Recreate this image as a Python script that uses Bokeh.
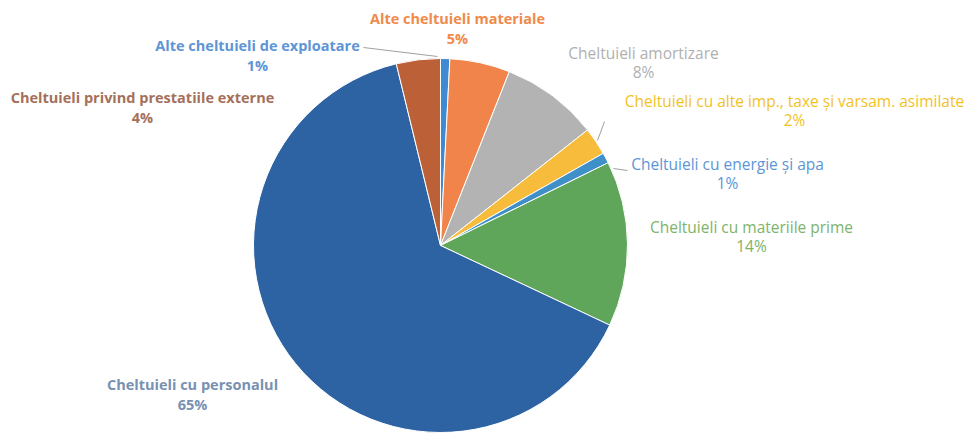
import numpy as np
from bokeh.plotting import figure
from bokeh.models import ColumnDataSource, Range1d
from bokeh.core.properties import value
from bokeh.embed import file_html
from bokeh.resources import INLINE

# Data (clockwise from 12 o'clock)
categories = [
    "Alte cheltuieli de exploatare",
    "Alte cheltuieli materiale",
    "Cheltuieli amortizare",
    "Cheltuieli cu alte imp., taxe și varsam. asimilate",
    "Cheltuieli cu energie și apa",
    "Cheltuieli cu materiile prime",
    "Cheltuieli cu personalul",
    "Cheltuieli privind prestatiile externe",
]
shares = [0.8, 5.2, 8.4, 2.4, 0.9, 14.3, 64.2, 3.8]
pct_labels = ["1%", "5%", "8%", "2%", "1%", "14%", "65%", "4%"]

slice_colors = ["#3F8AD2", "#F0844A", "#B3B3B3", "#F7BC3C", "#3F8FC8", "#5FA65B", "#2D62A3", "#BC6038"]
label_colors = ["#5D95D6", "#F08A4B", "#B0B0B0", "#F2C21E", "#5D95D6", "#7DB36A", "#7891B2", "#A5705A"]
label_sizes = ["14.5px", "14.5px", "15.5px", "15.5px", "15.5px", "15.5px", "14.5px", "14.5px"]
label_styles = ["bold", "bold", "normal", "normal", "normal", "normal", "bold", "bold"]

W, H = 968, 434

# Label anchor positions (layout, screen pixels from top-left)
label_px = [257, 457, 643, 794, 727, 751, 192, 142]
label_py = [45, 18, 52, 100, 163, 226, 384, 97]

cx, cy, r = 440, H - 245, 187

p = figure(width=W, height=H, output_backend="svg", toolbar_location=None,
           x_range=Range1d(0, W), y_range=Range1d(0, H), min_border=0)
p.axis.visible = False
p.grid.visible = False
p.outline_line_color = None
p.background_fill_color = "white"

vals = np.array(shares, dtype=float)
frac = vals / vals.sum()
cum = np.concatenate([[0], np.cumsum(frac)])
start = np.pi / 2 - 2 * np.pi * cum[1:]
end = np.pi / 2 - 2 * np.pi * cum[:-1]

src = ColumnDataSource(dict(start=start, end=end, color=slice_colors, cat=categories))
p.wedge(x=cx, y=cy, radius=r, start_angle="start", end_angle="end",
        fill_color="color", line_color="white", line_width=1, source=src)

# leader lines (screen coords converted)
leaders = [((363, 47), (437, 56)), ((597, 140), (604, 121)), ((613, 168), (627, 170))]
for (x0, y0), (x1, y1) in leaders:
    p.line([x0, x1], [H - y0, H - y1], line_color="#A0A0A0", line_width=1)

lab = ColumnDataSource(dict(
    x=label_px, y=[H - v for v in label_py], t=categories, c=label_colors,
    s=label_sizes, st=label_styles, p=pct_labels, y2=[H - v - 19.5 for v in label_py]))
p.text(x="x", y="y", text="t", text_color="c", text_font=value("Open Sans"),
       text_font_style="st", text_font_size="s", text_align="center",
       text_baseline="middle", source=lab)
p.text(x="x", y="y2", text="p", text_color="c", text_font=value("Open Sans"),
       text_font_style="st", text_font_size="s", text_align="center",
       text_baseline="middle", source=lab)

open("out.html", "w").write(file_html(p, INLINE))
